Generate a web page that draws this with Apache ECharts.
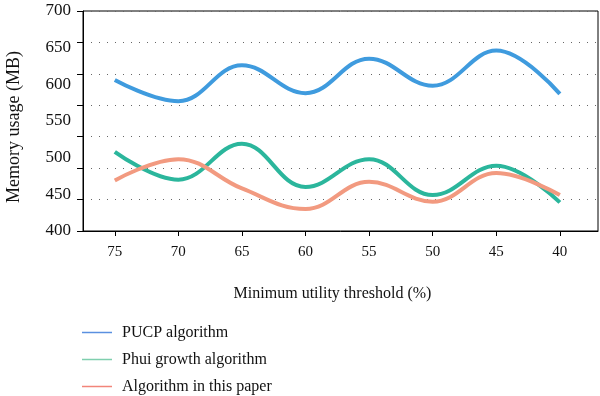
<!DOCTYPE html>
<html>
<head>
<meta charset="utf-8">
<script src="https://cdn.jsdelivr.net/npm/echarts@6/dist/echarts.min.js"></script>
<style>
  html, body { margin: 0; padding: 0; background: #fff; }
  #chart { width: 600px; height: 396px; }
</style>
</head>
<body>
<div id="chart"></div>
<script>
// 阈值（横轴，从大到小）
var thresholds = [75, 70, 65, 60, 55, 50, 45, 40];
var yTicks = [400, 450, 500, 550, 600, 650, 700];

var pucp = [606, 577, 626, 588, 635, 598, 646, 587];
var phui = [508, 470, 519, 460, 498, 449, 489, 439];
var ours = [469, 498, 458, 430, 467, 440, 479, 449];

var names = ['PUCP algorithm', 'Phui growth algorithm', 'Algorithm in this paper'];
var lineColors = ['#3f9bde', '#2bb69c', '#f29a80'];
var legendColors = ['#5a90e0', '#7fcfae', '#f2857a'];

var serif = '"Liberation Serif", "DejaVu Serif", serif';

function pairs(vals) {
    return thresholds.map(function (t, i) { return [t, vals[i]]; });
}

var chart = echarts.init(document.getElementById('chart'));

var seriesData = [pucp, phui, ours];
var series = seriesData.map(function (vals, i) {
    return {
        name: names[i],
        type: 'line',
        data: pairs(vals),
        smooth: 0.4,
        symbol: 'none',
        lineStyle: { color: lineColors[i], width: 4 },
        itemStyle: { color: legendColors[i] },
        yAxisIndex: 0
    };
});

chart.setOption({
    animation: false,
    grid: {
        left: 83, top: 11, right: 2, height: 220,
        outerBoundsMode: 'none', containLabel: false,
        show: true, borderColor: '#000', borderWidth: 1
    },
    legend: {
        orient: 'vertical',
        left: 82, top: 324, padding: 0,
        itemWidth: 30, itemHeight: 1.5, itemGap: 10,
        icon: 'rect',
        lineStyle: { width: 0, opacity: 0 },
        textStyle: { fontFamily: serif, fontSize: 16, color: '#111', lineHeight: 17, padding: [0, 0, 0, 5] },
        data: names.map(function (n, i) {
            return { name: n, itemStyle: { color: legendColors[i] } };
        })
    },
    xAxis: {
        type: 'value',
        inverse: true,
        min: 37.0, max: 77.5,
        name: 'Minimum utility threshold (%)',
        nameLocation: 'middle', nameGap: 55,
        nameTextStyle: { fontFamily: serif, fontSize: 16, color: '#111', padding: [0, 16, 0, 0] },
        axisLine: { onZero: false, lineStyle: { color: '#000', width: 1 } },
        axisTick: { customValues: thresholds, length: 5, lineStyle: { color: '#000' } },
        axisLabel: { customValues: thresholds, fontFamily: serif, fontSize: 15, color: '#111', margin: 14 },
        splitLine: { show: false }
    },
    yAxis: [{
        type: 'value',
        min: 400, max: 700, interval: 50,
        name: 'Memory usage (MB)',
        nameLocation: 'middle', nameGap: 60,
        nameTextStyle: { fontFamily: serif, fontSize: 18, color: '#111', padding: [0, 12, 0, 0] },
        axisLine: { show: true, lineStyle: { color: '#000', width: 1 } },
        axisTick: { show: false },
        axisLabel: { fontFamily: serif, fontSize: 17, color: '#111', margin: 12 },
        splitLine: { show: false }
    }, {
        // 刻度与虚线网格（7 等分，与标签不对齐）
        type: 'value',
        position: 'left',
        min: 0, max: 7, interval: 1,
        axisLine: { show: false },
        axisTick: { show: true, inside: false, length: 6, lineStyle: { color: '#000' } },
        axisLabel: { show: false },
        splitLine: { show: true, lineStyle: { color: '#666', type: [1, 7], width: 1.2 } }
    }],
    series: series
});
</script>
</body>
</html>
